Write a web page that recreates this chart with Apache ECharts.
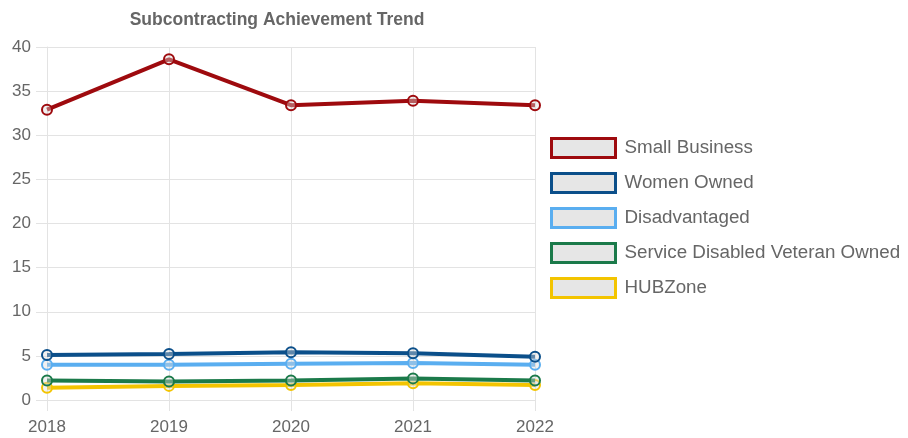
<!DOCTYPE html>
<html>
<head>
<meta charset="utf-8">
<script src="https://cdn.jsdelivr.net/npm/echarts@6/dist/echarts.min.js"></script>
<style>
  html, body { margin: 0; padding: 0; background: #fff; }
  #chart { width: 908px; height: 438px; }
</style>
</head>
<body>
<div id="chart"></div>
<script>
// data
const years = ['2018', '2019', '2020', '2021', '2022']
const smallBusiness = [32.9, 38.6, 33.4, 33.9, 33.4]
const womenOwned = [5.1, 5.2, 5.4, 5.3, 4.9]
const disadvantaged = [4.0, 4.0, 4.1, 4.2, 4.0]
const sdvo = [2.2, 2.1, 2.2, 2.45, 2.2]
const hubZone = [1.4, 1.6, 1.7, 1.9, 1.7]

const seriesNames = ['Small Business', 'Women Owned', 'Disadvantaged', 'Service Disabled Veteran Owned', 'HUBZone']
const seriesData = [smallBusiness, womenOwned, disadvantaged, sdvo, hubZone]
const colors = ['#9e0a0e', '#0b4f8a', '#5aaef0', '#1b7a4a', '#f3c400']

const textColor = '#666'
const gridColor = '#e3e3e3'
const font = 'Liberation Sans'

const chart = echarts.init(document.getElementById('chart'))

// first dataset on top, like the original
const series = seriesNames.map((name, i) => ({
  name: name,
  type: 'line',
  data: seriesData[i],
  z: 10 - i,
  symbol: 'circle',
  symbolSize: 10,
  lineStyle: { width: 4, color: colors[i] },
  itemStyle: { color: 'rgba(220,220,220,0.4)', borderColor: colors[i], borderWidth: 2 }
})).reverse()

const option = {
  animation: false,
  title: {
    text: 'Subcontracting Achievement Trend',
    left: 272,
    top: 6,
    textAlign: 'center',
    textStyle: { fontFamily: font, fontSize: 17.5, fontWeight: 'bold', color: textColor }
  },
  legend: {
    orient: 'vertical',
    left: 550,
    top: 137,
    padding: 0,
    icon: 'rect',
    itemWidth: 64,
    itemHeight: 19,
    itemGap: 13,
    textStyle: { fontFamily: font, fontSize: 18.8, color: textColor, padding: [0, 0, 0, 4] },
    data: seriesNames.map((name, i) => ({
      name: name,
      itemStyle: { color: '#e6e6e6', borderColor: colors[i], borderWidth: 3 }
    }))
  },
  grid: { left: 47, right: 373, top: 47, bottom: 38 },
  xAxis: {
    type: 'category',
    boundaryGap: false,
    data: years,
    axisLine: { lineStyle: { color: gridColor, width: 1 } },
    axisTick: { show: true, length: 11, lineStyle: { color: gridColor } },
    axisLabel: { fontFamily: font, fontSize: 17, color: textColor, margin: 19 },
    splitLine: { show: true, lineStyle: { color: gridColor } }
  },
  yAxis: {
    type: 'value',
    min: 0,
    max: 40,
    interval: 5,
    axisLine: { show: true, lineStyle: { color: gridColor, width: 1 } },
    axisTick: { show: true, length: 11, lineStyle: { color: gridColor } },
    axisLabel: { fontFamily: font, fontSize: 17, color: textColor, margin: 16 },
    splitLine: { show: true, lineStyle: { color: gridColor } }
  },
  series: series
}

chart.setOption(option)
</script>
</body>
</html>
